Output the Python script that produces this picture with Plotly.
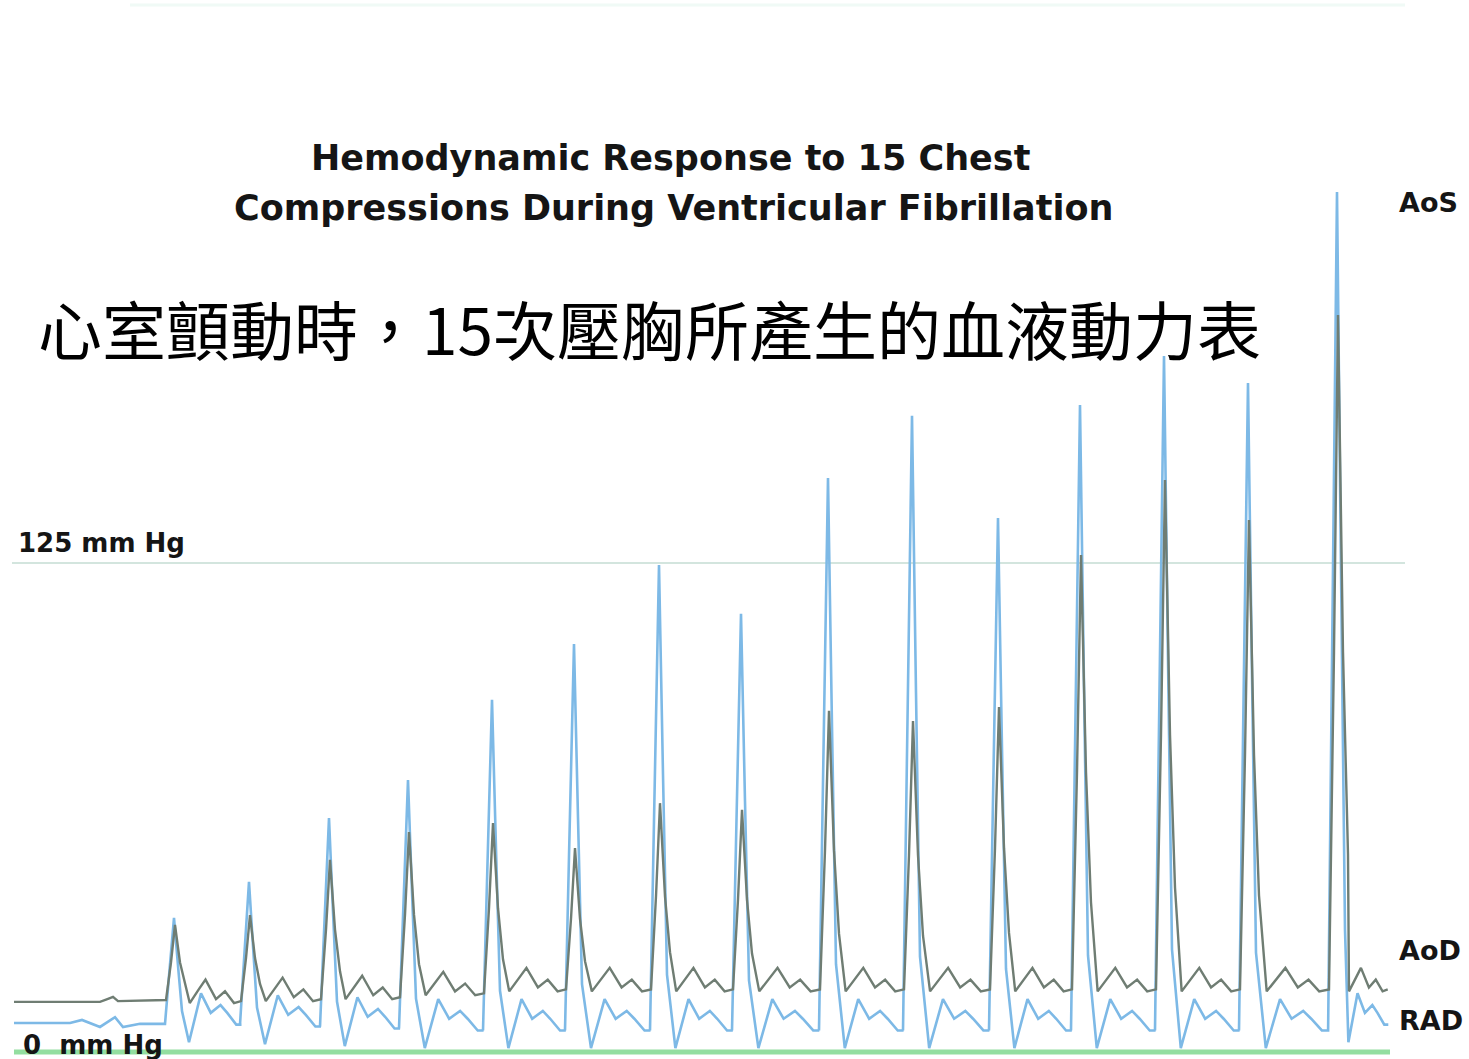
import plotly.graph_objects as go

# ---------------- data read from the tracing ----------------
# compression peak times (s) and peak pressures (mm Hg)
beat_t = [1.60, 2.35, 3.15, 3.94, 4.78, 5.60, 6.45, 7.27, 8.14, 8.98, 9.84, 10.66, 11.50, 12.34, 13.23]
rad_peak = [34.3, 43.5, 59.8, 69.5, 90.0, 104.3, 124.5, 112.0, 146.7, 162.6, 136.5, 165.4, 177.9, 171.0, 219.8]
aod_peak = [32.5, 35.0, 49.1, 56.2, 58.5, 52.1, 63.6, 61.9, 87.2, 84.6, 88.2, 127.0, 146.2, 136.0, 188.4]
aod_shift = [-3.0, -2.5, -2.0, -1.0, 0.0, 0.0, 0.0, 0.0, 0.0, 0.0, 0.0, 0.0, 0.0, 0.0, 0.0]
rad_shift = [1.5, 1.0, 0.5, 0.0, 0.0, 0.0, 0.0, 0.0, 0.0, 0.0, 0.0, 0.0, 0.0, 0.0, 1.5]
last_period = 0.57

# baseline before the compressions start
rad_pre_t = [0.00, 0.41, 0.56, 0.68, 0.86, 1.01, 1.09, 1.26, 1.46]
rad_pre = [7.4, 7.4, 7.4, 8.2, 6.4, 8.9, 6.4, 7.2, 7.2]
aod_pre_t = [0.00, 0.86, 0.94, 0.99, 1.04, 1.46]
aod_pre = [12.8, 12.8, 13.6, 14.1, 13.0, 13.3]

# shape of one compression cycle
rad_spike_off = [-0.09, -0.05, 0.00, 0.04, 0.08]
rad_spike_frac = [0.0, 0.45, 1.0, 0.55, 0.12]
aod_spike_off = [-0.08, -0.03, 0.01, 0.06, 0.11]
aod_spike_frac = [0.0, 0.5, 1.0, 0.5, 0.2]
rad_tail_pos = [0.20, 0.36, 0.49, 0.62, 0.71, 0.83, 0.90]
rad_tail = [1.0, 13.5, 8.5, 10.5, 8.5, 5.5, 5.5]
aod_tail_pos = [0.21, 0.33, 0.42, 0.56, 0.68, 0.80, 0.89]
aod_tail = [15.5, 19.0, 21.5, 16.5, 18.5, 15.5, 16.0]

ref_levels = [0, 125]
title_lines = ["Hemodynamic Response to 15 Chest",
               "Compressions During Ventricular Fibrillation"]
subtitle = "心室顫動時，15次壓胸所產生的血液動力表"
level_labels = ["125 mm Hg", "0\u00a0\u00a0mm Hg"]
trace_labels = ["AoS", "AoD", "RAD"]


def build(pre_t, pre_v, peaks, spike_off, spike_frac, tail_pos, tail_v, shift):
    xs, ys = list(pre_t), list(pre_v)
    for i, (t, p) in enumerate(zip(beat_t, peaks)):
        base = ys[-1]
        for o, f in zip(spike_off, spike_frac):
            xs.append(t + o)
            ys.append(base + f * (p - base))
        period = beat_t[i + 1] - t if i + 1 < len(beat_t) else last_period
        for q, v in zip(tail_pos, tail_v):
            xs.append(t + q * period)
            ys.append(v + shift[i])
    return xs, ys


rad_x, rad_y = build(rad_pre_t, rad_pre, rad_peak, rad_spike_off, rad_spike_frac,
                     rad_tail_pos, rad_tail, rad_shift)
aod_x, aod_y = build(aod_pre_t, aod_pre, aod_peak, aod_spike_off, aod_spike_frac,
                     aod_tail_pos, aod_tail, aod_shift)

W, H = 1469, 1059
X0, X1 = -0.14, 14.55
Y0, Y1 = -1.79, 268.9

fig = go.Figure()
fig.add_trace(go.Scatter(x=rad_x, y=rad_y, mode="lines",
                         line=dict(color="#7db9e6", width=2.6), name="RA"))
fig.add_trace(go.Scatter(x=aod_x, y=aod_y, mode="lines",
                         line=dict(color="#6f7d73", width=2.4), name="Ao"))

# reference lines
fig.add_shape(type="line", x0=-0.02, x1=13.91, y0=ref_levels[1], y1=ref_levels[1],
              line=dict(color="#d3e5de", width=2), layer="below")
fig.add_shape(type="line", x0=0.0, x1=13.76, y0=ref_levels[0], y1=ref_levels[0],
              line=dict(color="#93dea0", width=5), layer="below")
fig.add_shape(type="line", x0=1.16, x1=13.91, y0=267.6, y1=267.6,
              line=dict(color="#f0faf6", width=3), layer="below")

dark = "#151515"
lab_font = dict(family="DejaVu Sans", size=35, color=dark, weight="bold")
fig.add_annotation(text=title_lines[0], x=670 / W, y=1 - 158 / H, xref="paper", yref="paper",
                   showarrow=False, xanchor="center", yanchor="middle", font=lab_font)
fig.add_annotation(text=title_lines[1], x=673 / W, y=1 - 208 / H, xref="paper", yref="paper",
                   showarrow=False, xanchor="center", yanchor="middle", font=lab_font)
fig.add_annotation(text=subtitle, x=36 / W, y=1 - 327 / H, xref="paper", yref="paper",
                   showarrow=False, xanchor="left", yanchor="middle",
                   font=dict(family="Noto Sans CJK TC", size=64, color="#000000"))

small = dict(family="DejaVu Sans", size=26, color=dark, weight="bold")
fig.add_annotation(text=level_labels[0], x=16 / W, y=1 - 543 / H, xref="paper", yref="paper",
                   showarrow=False, xanchor="left", yanchor="middle", font=small)
fig.add_annotation(text=level_labels[1], x=21 / W, y=1 - 1045 / H, xref="paper", yref="paper",
                   showarrow=False, xanchor="left", yanchor="middle", font=small)
for lab, py in zip(trace_labels, [202, 950, 1020]):
    fig.add_annotation(text=lab, x=1397 / W, y=1 - py / H, xref="paper", yref="paper",
                       showarrow=False, xanchor="left", yanchor="middle",
                       font=dict(family="DejaVu Sans", size=27, color=dark, weight="bold"))

fig.update_layout(
    width=W, height=H, margin=dict(l=0, r=0, t=0, b=0),
    paper_bgcolor="white", plot_bgcolor="white", showlegend=False,
    xaxis=dict(range=[X0, X1], visible=False, fixedrange=True),
    yaxis=dict(range=[Y0, Y1], visible=False, fixedrange=True),
)

fig.write_html("out.html", config={"displayModeBar": False},
               post_script="document.body.style.margin='0';document.body.style.overflow='hidden';")
